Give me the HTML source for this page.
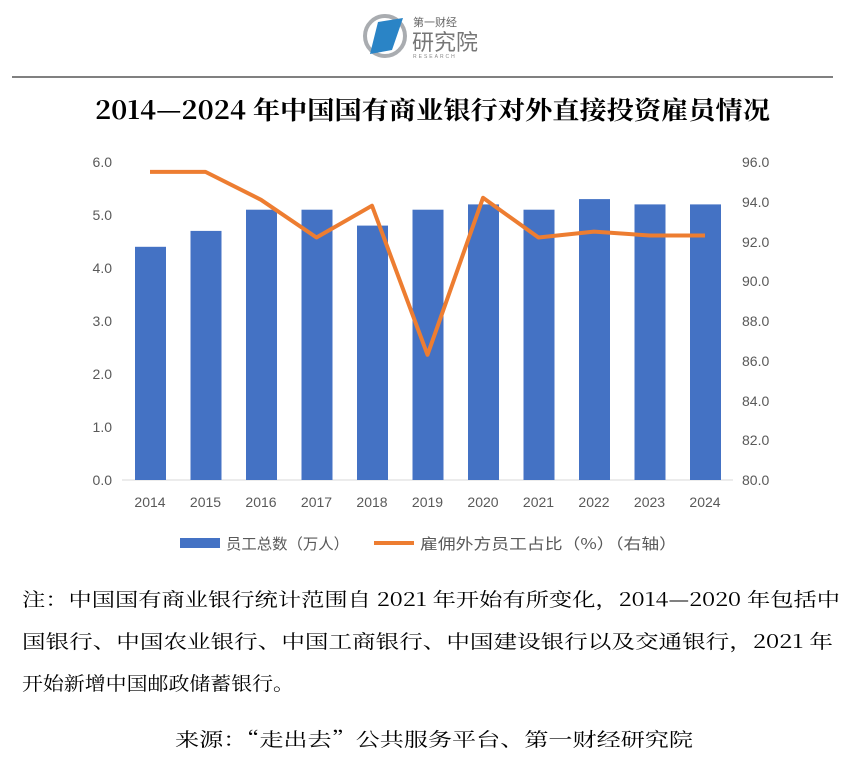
<!DOCTYPE html>
<html><head><meta charset="utf-8"><style>
body{margin:0;background:#fff;width:860px;height:767px;overflow:hidden;font-family:"Liberation Serif","Noto Serif CJK SC",serif}
</style></head><body>
<svg width="860" height="767" xmlns="http://www.w3.org/2000/svg">
<circle cx="385" cy="36" r="20" fill="none" stroke="#a9acb0" stroke-width="4"/>
<polygon points="378,22 403,18 392,50 370,54" fill="#2a84c6"/>
<text x="413" y="26" font-size="11" fill="#666" font-family="Noto Sans CJK SC,sans-serif">第一财经</text>
<text x="412" y="50" font-size="22" fill="#777" font-family="Noto Sans CJK SC,sans-serif">研究院</text>
<text x="413" y="58" font-size="5" fill="#888" font-family="Liberation Sans,sans-serif" letter-spacing="2">RESEARCH</text>
<line x1="12" y1="77" x2="833" y2="77" stroke="#000" stroke-width="1"/>
<text x="95" y="119" textLength="675" lengthAdjust="spacingAndGlyphs" font-size="25" font-weight="bold" fill="#000" font-family="Noto Serif CJK SC,serif">2014—2024 年中国国有商业银行对外直接投资雇员情况</text>
<g font-family="Liberation Sans,sans-serif" font-size="14" fill="#595959">
<text x="112" y="167" text-anchor="end">6.0</text>
<text x="112" y="220" text-anchor="end">5.0</text>
<text x="112" y="273" text-anchor="end">4.0</text>
<text x="112" y="326" text-anchor="end">3.0</text>
<text x="112" y="379" text-anchor="end">2.0</text>
<text x="112" y="432" text-anchor="end">1.0</text>
<text x="112" y="485" text-anchor="end">0.0</text>
<text x="742" y="167">96.0</text>
<text x="742" y="207">94.0</text>
<text x="742" y="247">92.0</text>
<text x="742" y="286">90.0</text>
<text x="742" y="326">88.0</text>
<text x="742" y="366">86.0</text>
<text x="742" y="406">84.0</text>
<text x="742" y="445">82.0</text>
<text x="742" y="485">80.0</text>
</g>
<line x1="122" y1="480" x2="733" y2="480" stroke="#d9d9d9"/>
<g fill="#4472c4">
<rect x="135" y="246.8" width="31" height="233.2"/>
<rect x="190.5" y="230.9" width="31" height="249.1"/>
<rect x="246" y="209.7" width="31" height="270.3"/>
<rect x="301.5" y="209.7" width="31" height="270.3"/>
<rect x="357" y="225.6" width="31" height="254.4"/>
<rect x="412.5" y="209.7" width="31" height="270.3"/>
<rect x="468" y="204.4" width="31" height="275.6"/>
<rect x="523.5" y="209.7" width="31" height="270.3"/>
<rect x="579" y="199.1" width="31" height="280.9"/>
<rect x="634.5" y="204.4" width="31" height="275.6"/>
<rect x="690" y="204.4" width="31" height="275.6"/>
</g>
<polyline fill="none" stroke="#ed7d31" stroke-width="4" stroke-linejoin="round" points="150,171.9 205.5,171.9 261,199.8 316.5,237.5 372,205.7 427.5,354.8 483,197.8 538.5,237.5 594,231.6 649.5,235.5 705,235.5"/>
<g font-family="Liberation Sans,sans-serif" font-size="14" fill="#595959" text-anchor="middle">
<text x="150" y="507">2014</text><text x="205.5" y="507">2015</text><text x="261" y="507">2016</text><text x="316.5" y="507">2017</text><text x="372" y="507">2018</text><text x="427.5" y="507">2019</text><text x="483" y="507">2020</text><text x="538.5" y="507">2021</text><text x="594" y="507">2022</text><text x="649.5" y="507">2023</text><text x="705" y="507">2024</text>
</g>
<rect x="180" y="538" width="40" height="10" fill="#4472c4"/>
<text x="226" y="549" textLength="123" lengthAdjust="spacingAndGlyphs" font-size="15" fill="#595959" font-family="Noto Sans CJK SC,sans-serif">员工总数（万人）</text>
<line x1="374" y1="543" x2="414" y2="543" stroke="#ed7d31" stroke-width="4"/>
<text x="420" y="549" textLength="257" lengthAdjust="spacingAndGlyphs" font-size="15" fill="#595959" font-family="Noto Sans CJK SC,sans-serif">雇佣外方员工占比（%）（右轴）</text>
<g font-size="19" fill="#000" font-family="Noto Serif CJK SC,serif">
<text x="22" y="606" textLength="818" lengthAdjust="spacingAndGlyphs">注：中国国有商业银行统计范围自 2021 年开始有所变化，2014—2020 年包括中</text>
<text x="22" y="648" textLength="811" lengthAdjust="spacingAndGlyphs">国银行、中国农业银行、中国工商银行、中国建设银行以及交通银行，2021 年</text>
<text x="22" y="690" textLength="272" lengthAdjust="spacingAndGlyphs">开始新增中国邮政储蓄银行。</text>
<text x="175" y="746" textLength="518" lengthAdjust="spacingAndGlyphs">来源：“走出去”公共服务平台、第一财经研究院</text>
</g>
</svg>
</body></html>
